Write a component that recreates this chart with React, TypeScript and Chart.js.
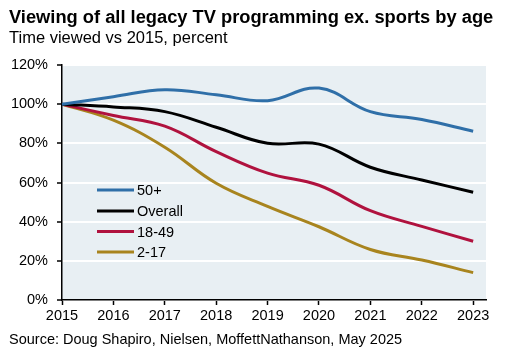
import React, { useEffect, useRef } from "react";
import { Chart, registerables } from "chart.js";

Chart.register(...registerables);

const years = [2015, 2016, 2017, 2018, 2019, 2020, 2021, 2022, 2023];
const seriesNames = ["50+", "Overall", "18-49", "2-17"];
const over50 = [100, 103.8, 107.4, 104.8, 101.8, 108.2, 96.2, 92.2, 86.2];
const overall = [100, 98.6, 96.2, 88.2, 80.0, 79.6, 67.8, 61.3, 55.0];
const age1849 = [100, 94.2, 88.8, 75.8, 64.8, 58.6, 45.6, 37.6, 30.0];
const age217 = [100, 91.8, 78.0, 59.6, 47.8, 37.4, 25.8, 20.4, 14.0];
const yTicks = [0, 20, 40, 60, 80, 100, 120];
const colors = ["#2F6FA8", "#000000", "#B0123E", "#A8841E"];

const FONT = '"Liberation Sans", Arial, Helvetica, sans-serif';

export default function App() {
  const ref = useRef<HTMLCanvasElement | null>(null);
  useEffect(() => {
    if (!ref.current) return;
    const values = [over50, overall, age1849, age217];
    const bgPlugin = {
      id: "bg",
      beforeDraw(chart: any) {
        const { ctx, chartArea } = chart;
        ctx.save();
        ctx.fillStyle = "#E8EFF3";
        ctx.fillRect(chartArea.left, chartArea.top, chartArea.right - chartArea.left, chartArea.bottom - chartArea.top);
        ctx.restore();
      },
    };
    const legendPlugin = {
      id: "inlineLegend",
      afterDatasetsDraw(chart: any) {
        const { ctx } = chart;
        const ys = [190, 211, 231.5, 252];
        ctx.save();
        chart.data.datasets.forEach((ds: any, i: number) => {
          ctx.strokeStyle = ds.borderColor;
          ctx.lineWidth = 3;
          ctx.beginPath();
          ctx.moveTo(97, ys[i]);
          ctx.lineTo(134, ys[i]);
          ctx.stroke();
          ctx.fillStyle = "#000";
          ctx.font = `14.5px ${FONT}`;
          ctx.textBaseline = "middle";
          ctx.fillText(ds.label, 137, ys[i] + 1);
        });
        ctx.restore();
      },
    };
    const chart = new Chart(ref.current, {
      type: "line",
      data: {
        datasets: seriesNames.map((name, i) => ({
          label: name,
          data: years.map((y, j) => ({ x: y, y: values[i][j] })),
          borderColor: colors[i],
          backgroundColor: colors[i],
          borderWidth: 3,
          pointRadius: 0,
          tension: 0.4,
          cubicInterpolationMode: "default",
        })),
      },
      options: {
        responsive: false,
        animation: false,
        layout: { padding: { left: 0, top: 65, right: 32, bottom: 22 } },
        plugins: { legend: { display: false }, tooltip: { enabled: false } },
        scales: {
          x: {
            type: "linear",
            min: 2015,
            max: 2023.25,
            afterBuildTicks: (scale: any) => {
              scale.ticks = years.map((v) => ({ value: v }));
            },
            afterFit: (scale: any) => {
              scale.height = 30;
            },
            ticks: {
              color: "#000",
              font: { family: FONT, size: 14.5 },
              padding: 2,
              maxRotation: 0,
              autoSkip: false,
              callback: (v: any) => String(v),
            },
            grid: { drawOnChartArea: false, drawTicks: true, tickLength: 5, tickColor: "#000", tickWidth: 1.5 },
            border: { color: "#000", width: 1.5 },
          },
          y: {
            min: 0,
            max: 120,
            afterBuildTicks: (scale: any) => {
              scale.ticks = yTicks.map((v) => ({ value: v }));
            },
            afterFit: (scale: any) => {
              scale.width = 62;
            },
            ticks: {
              color: "#000",
              font: { family: FONT, size: 14.5 },
              padding: 9,
              callback: (v: any) => v + "%",
            },
            grid: { color: "#FFFFFF", lineWidth: 2, tickLength: 5, tickColor: "#000", tickWidth: 1.5 },
            border: { color: "#000", width: 1.5 },
          },
        },
      },
      plugins: [bgPlugin, legendPlugin],
    } as any);
    return () => chart.destroy();
  }, []);

  return (
    <div style={{ position: "absolute", left: 0, top: 0, width: 518, height: 352, background: "#fff", fontFamily: FONT }}>
      <canvas ref={ref} width={518} height={352} style={{ position: "absolute", left: 0, top: 0 }} />
      <div style={{ position: "absolute", left: 9, top: 7.5, fontSize: 18.3, lineHeight: 1, fontWeight: "bold", color: "#000", whiteSpace: "nowrap" }}>
        Viewing of all legacy TV programming ex. sports by age
      </div>
      <div style={{ position: "absolute", left: 9, top: 29, fontSize: 16.5, lineHeight: 1, color: "#000", whiteSpace: "nowrap" }}>
        Time viewed vs 2015, percent
      </div>
      <div style={{ position: "absolute", left: 9, top: 331, fontSize: 14.5, color: "#000", whiteSpace: "nowrap" }}>
        Source: Doug Shapiro, Nielsen, MoffettNathanson, May 2025
      </div>
    </div>
  );
}
